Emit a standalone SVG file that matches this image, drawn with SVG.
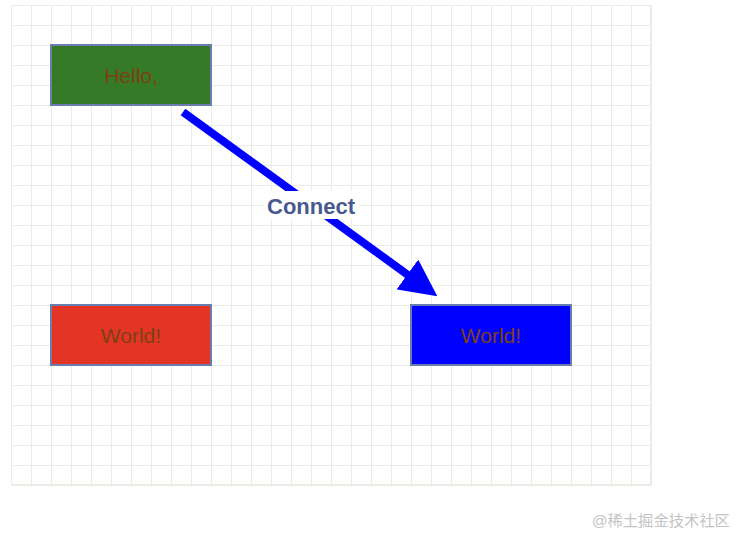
<svg xmlns="http://www.w3.org/2000/svg" width="736" height="534" viewBox="0 0 736 534">
<style>
.grid line{stroke:#e9ede6;stroke-width:2}
.node rect{stroke:#6a7db0;stroke-width:2}
.node text{font-family:"Liberation Sans",Arial,sans-serif;font-size:21px;fill:#7d4016;text-anchor:middle;dominant-baseline:central}
.lbl{font-family:"Liberation Sans",Arial,sans-serif;font-size:22px;font-weight:bold;fill:#48598e;text-anchor:middle}
.wm{font-family:"Liberation Sans","Noto Sans CJK SC",sans-serif;font-size:15.3px;fill:#c4c4c4}
</style>
<defs>
<pattern id="gp" x="11" y="5" width="20" height="20" patternUnits="userSpaceOnUse">
<path d="M0,0 H20 M0,0 V20" stroke="#e9ede6" stroke-width="2" fill="none"/>
</pattern>
<marker id="ah" markerUnits="userSpaceOnUse" viewBox="0 0 37 37" refX="2" refY="18.5" markerWidth="37" markerHeight="37" orient="auto">
<path d="M0,0 L37,18.5 L0,37 z" fill="#0000ff"/>
</marker>
</defs>
<rect width="736" height="534" fill="#ffffff"/>
<g class="grid">
<rect x="11" y="5" width="640" height="480" fill="url(#gp)"/>
<line x1="11" y1="485" x2="651" y2="485"/>
<line x1="651" y1="5" x2="651" y2="485"/>
</g>
<g id="connectors">
<line x1="183" y1="112" x2="409" y2="275.7" stroke="#0000ff" stroke-width="8" marker-end="url(#ah)"/>
<rect x="263" y="191" width="96" height="28" fill="#ffffff"/>
<text class="lbl" x="311" y="214">Connect</text>
</g>
<g id="node-hello" class="node">
<rect x="51" y="45" width="160" height="60" fill="#357a27"/>
<text x="131" y="75">Hello,</text>
</g>
<g id="node-world-red" class="node">
<rect x="51" y="305" width="160" height="60" fill="#e43424"/>
<text x="131" y="335">World!</text>
</g>
<g id="node-world-blue" class="node">
<rect x="411" y="305" width="160" height="60" fill="#0000ff"/>
<text x="491" y="335">World!</text>
</g>
<text class="wm" x="592" y="526">@稀土掘金技术社区</text>
</svg>
